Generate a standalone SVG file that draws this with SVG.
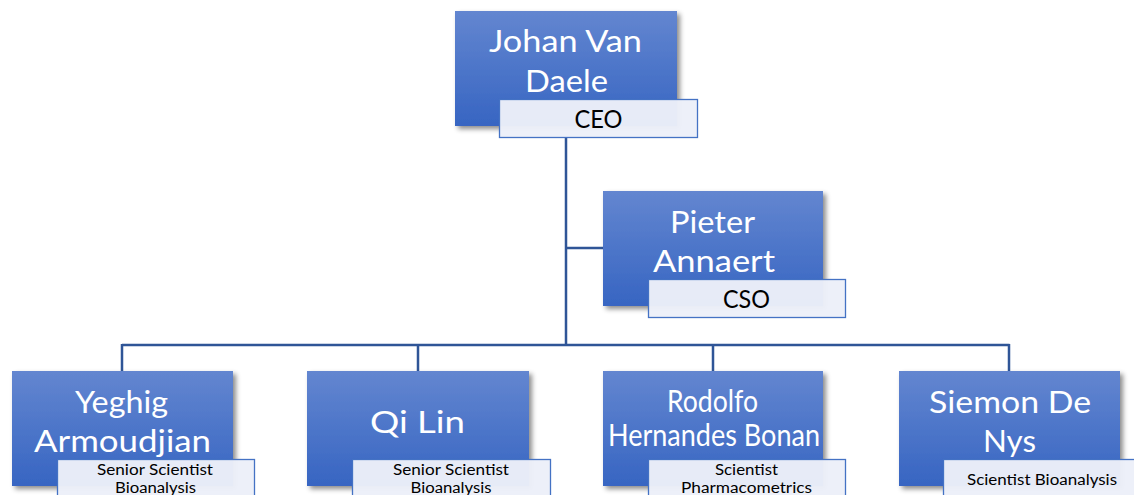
<svg xmlns="http://www.w3.org/2000/svg" width="1134" height="495" viewBox="0 0 1134 495">
<defs>
<linearGradient id="g" x1="0" y1="0" x2="0" y2="1">
<stop offset="0" stop-color="#6386d0"/>
<stop offset="1" stop-color="#3765c2"/>
</linearGradient>
<filter id="sh" x="-10%" y="-10%" width="130%" height="130%">
<feDropShadow dx="3" dy="3" stdDeviation="2.5" flood-color="#000" flood-opacity="0.45"/>
</filter>
</defs>
<style>
.box{fill:url(#g);filter:url(#sh)}
.lab{fill:#ecf0f9;fill-opacity:0.97;stroke:#4472c4;stroke-width:1.3}
.name{font-family:Lato,"Liberation Sans",sans-serif;fill:#fff;text-anchor:middle;font-size:30px}
.t{font-family:Lato,"Liberation Sans",sans-serif;fill:#000;text-anchor:middle}
.c{stroke:#2f5597;stroke-width:2.5;fill:none}
</style>
<rect width="1134" height="495" fill="#fff"/>
<g id="connectors">
<path class="c" d="M566 138V345M566 248H603M122 345H1009.5M122 344V371M418 344V371M713 344V371M1009 344V371"/>
</g>
<g id="ceo">
<rect class="box" x="455" y="11" width="222" height="115"/>
<text class="name" x="565.5" y="52" textLength="153" lengthAdjust="spacingAndGlyphs">Johan Van</text>
<text class="name" x="566.5" y="92" textLength="83" lengthAdjust="spacingAndGlyphs">Daele</text>
<rect class="lab" x="499.5" y="99.5" width="198" height="38"/>
<text class="t" x="598.5" y="128" font-size="25" textLength="48" lengthAdjust="spacingAndGlyphs">CEO</text>
</g>
<g id="cso">
<rect class="box" x="603" y="191" width="220" height="115"/>
<text class="name" x="712.5" y="233" textLength="85" lengthAdjust="spacingAndGlyphs">Pieter</text>
<text class="name" x="714" y="272" textLength="122" lengthAdjust="spacingAndGlyphs">Annaert</text>
<rect class="lab" x="648.5" y="279.5" width="197" height="38"/>
<text class="t" x="746.5" y="308" font-size="25" textLength="47" lengthAdjust="spacingAndGlyphs">CSO</text>
</g>
<g id="yeghig">
<rect class="box" x="12" y="371" width="221" height="115"/>
<text class="name" x="121.5" y="413" textLength="93" lengthAdjust="spacingAndGlyphs">Yeghig</text>
<text class="name" x="122.5" y="452" textLength="177" lengthAdjust="spacingAndGlyphs">Armoudjian</text>
<rect class="lab" x="57.5" y="459.5" width="197" height="40"/>
<text class="t" x="155" y="475" font-size="15.5" textLength="116" lengthAdjust="spacingAndGlyphs">Senior Scientist</text>
<text class="t" x="155.5" y="493" font-size="15.5" textLength="81" lengthAdjust="spacingAndGlyphs">Bioanalysis</text>
</g>
<g id="qilin">
<rect class="box" x="307" y="371" width="222" height="115"/>
<text class="name" x="417.5" y="433" font-size="38" textLength="95" lengthAdjust="spacingAndGlyphs">Qi Lin</text>
<rect class="lab" x="352.5" y="459.5" width="198" height="40"/>
<text class="t" x="451" y="475" font-size="15.5" textLength="116" lengthAdjust="spacingAndGlyphs">Senior Scientist</text>
<text class="t" x="451" y="493" font-size="15.5" textLength="81" lengthAdjust="spacingAndGlyphs">Bioanalysis</text>
</g>
<g id="rodolfo">
<rect class="box" x="603" y="371" width="220" height="115"/>
<text class="name" x="712.5" y="412" font-size="23" textLength="91" lengthAdjust="spacingAndGlyphs">Rodolfo</text>
<text class="name" x="714" y="446" font-size="23" textLength="212" lengthAdjust="spacingAndGlyphs">Hernandes Bonan</text>
<rect class="lab" x="648.5" y="459.5" width="197" height="40"/>
<text class="t" x="746.5" y="475" font-size="15.5" textLength="63" lengthAdjust="spacingAndGlyphs">Scientist</text>
<text class="t" x="746.5" y="493" font-size="15.5" textLength="131" lengthAdjust="spacingAndGlyphs">Pharmacometrics</text>
</g>
<g id="siemon">
<rect class="box" x="899" y="371" width="221" height="115"/>
<text class="name" x="1010" y="413" textLength="162" lengthAdjust="spacingAndGlyphs">Siemon De</text>
<text class="name" x="1009.5" y="452" textLength="53" lengthAdjust="spacingAndGlyphs">Nys</text>
<rect class="lab" x="943.5" y="459.5" width="198" height="40"/>
<text class="t" x="1042" y="485" font-size="15.5" textLength="150" lengthAdjust="spacingAndGlyphs">Scientist Bioanalysis</text>
</g>
</svg>
